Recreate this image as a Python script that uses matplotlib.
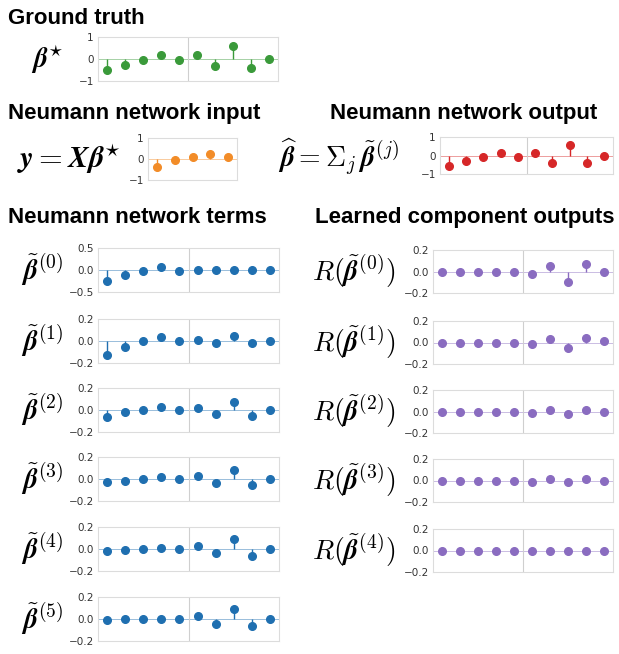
import matplotlib
matplotlib.use("Agg")
import matplotlib.pyplot as plt
import numpy as np

plt.rcParams["mathtext.fontset"] = "cm"

W, H = 619, 654

# --- data ---
beta_true = [-0.50, -0.25, -0.05, 0.17, -0.05, 0.17, -0.30, 0.57, -0.42, 0.0]
y_input = [-0.40, -0.05, 0.08, 0.22, 0.10]
beta_hat = [-0.55, -0.28, -0.08, 0.15, -0.08, 0.15, -0.38, 0.55, -0.42, -0.03]

terms = [
    [-0.25, -0.12, -0.02, 0.06, -0.02, 0.0, 0.0, 0.0, 0.0, 0.0],
    [-0.13, -0.05, 0.0, 0.04, 0.0, 0.01, -0.02, 0.05, -0.02, 0.0],
    [-0.06, -0.02, 0.0, 0.025, 0.0, 0.02, -0.035, 0.07, -0.05, 0.0],
    [-0.03, -0.015, 0.0, 0.015, 0.0, 0.025, -0.04, 0.085, -0.05, 0.0],
    [-0.015, -0.005, 0.0, 0.01, 0.0, 0.025, -0.04, 0.095, -0.06, 0.0],
    [-0.005, 0.0, 0.0, 0.0, 0.0, 0.03, -0.045, 0.09, -0.065, 0.0],
]
learned = [
    [0.0, 0.0, 0.0, 0.0, 0.0, -0.02, 0.055, -0.10, 0.07, 0.0],
    [0.0, 0.0, 0.0, 0.0, 0.0, -0.015, 0.035, -0.05, 0.045, 0.01],
    [0.0, 0.0, 0.0, 0.0, 0.0, -0.01, 0.015, -0.025, 0.015, 0.0],
    [0.0, 0.0, 0.0, 0.0, 0.0, -0.01, 0.01, -0.015, 0.01, 0.0],
    [0.0, 0.0, 0.0, 0.0, 0.0, -0.005, 0.0, 0.0, 0.0, 0.0],
]

GREEN, ORANGE, RED, BLUE, PURPLE = "#3a9a3a", "#f28c28", "#d62728", "#1f6fb0", "#8a6cc0"


def add_ax(fig, left, top, right, bottom):
    return fig.add_axes([left / W, 1 - bottom / H, (right - left) / W, (bottom - top) / H])


def stem_panel(ax, vals, color, lim, ticks, ticklabels, mid=True):
    n = len(vals)
    x = np.arange(n)
    ml, sl, bl = ax.stem(x, vals, basefmt=" ")
    plt.setp(ml, color=color, markersize=5.5)
    plt.setp(sl, color=color, linewidth=1.0)
    ax.axhline(0, color=color, lw=0.7, alpha=0.45, zorder=0)
    if mid:
        ax.axvline((n - 1) / 2, color="#cfcfcf", lw=0.8, zorder=0)
    ax.set_xlim(-0.5, n - 0.5)
    ax.set_ylim(-lim, lim)
    ax.set_xticks([])
    ax.set_yticks(ticks)
    ax.set_yticklabels(ticklabels)
    ax.tick_params(axis="y", length=0, pad=3, labelsize=7.5, labelcolor="#333333")
    for s in ax.spines.values():
        s.set_color("#dcdcdc")
        s.set_linewidth(0.8)


fig = plt.figure(figsize=(W / 100, H / 100), dpi=100)

title_kw = dict(fontsize=16, fontweight="bold", family="Liberation Sans", va="baseline")
fig.text(8 / W, 1 - 24 / H, "Ground truth", **title_kw)
fig.text(8 / W, 1 - 119 / H, "Neumann network input", **title_kw)
fig.text(330 / W, 1 - 119 / H, "Neumann network output", **title_kw)
fig.text(8 / W, 1 - 223 / H, "Neumann network terms", **title_kw)
fig.text(315 / W, 1 - 223 / H, "Learned component outputs", **title_kw)

math_kw = dict(fontsize=20, va="center", ha="center")
B = r"\boldsymbol{\beta}"

ax = add_ax(fig, 98, 37, 278, 81)
stem_panel(ax, beta_true, GREEN, 1, [-1, 0, 1], ["\u22121", "0", "1"])
fig.text(47 / W, 1 - 60 / H, rf"${B}^{{\star}}$", **math_kw)

ax = add_ax(fig, 148, 138, 237, 180)
stem_panel(ax, y_input, ORANGE, 1, [-1, 0, 1], ["\u22121", "0", "1"], mid=False)
fig.text(69 / W, 1 - 159 / H, rf"$\boldsymbol{{y}} = \boldsymbol{{X}}{B}^{{\star}}$",
         **dict(math_kw, fontsize=22))

ax = add_ax(fig, 440, 137, 613, 174)
stem_panel(ax, beta_hat, RED, 1, [-1, 0, 1], ["\u22121", "0", "1"])
fig.text(338 / W, 1 - 157 / H,
         rf"$\widehat{{{B}}} = \Sigma_{{j}}\, \tilde{{{B}}}^{{(j)}}$", **math_kw)

row_tops = [248, 319, 388, 457, 527, 597]
row_h = 44
for k, vals in enumerate(terms):
    top = row_tops[k]
    ax = add_ax(fig, 98, top, 279, top + row_h)
    if k == 0:
        stem_panel(ax, vals, BLUE, 0.5, [-0.5, 0, 0.5], ["\u22120.5", "0.0", "0.5"])
    else:
        stem_panel(ax, vals, BLUE, 0.2, [-0.2, 0, 0.2], ["\u22120.2", "0.0", "0.2"])
    fig.text(42 / W, 1 - (top + row_h / 2) / H, rf"$\tilde{{{B}}}^{{({k})}}$", **math_kw)

for k, vals in enumerate(learned):
    top = row_tops[k]
    ax = add_ax(fig, 433, top + 2, 613, top + row_h + 1)
    stem_panel(ax, vals, PURPLE, 0.2, [-0.2, 0, 0.2], ["\u22120.2", "0.0", "0.2"])
    fig.text(354 / W, 1 - (top + row_h / 2 + 1) / H, rf"$R(\tilde{{{B}}}^{{({k})}})$", **math_kw)

fig.savefig("out.png", dpi=100)
